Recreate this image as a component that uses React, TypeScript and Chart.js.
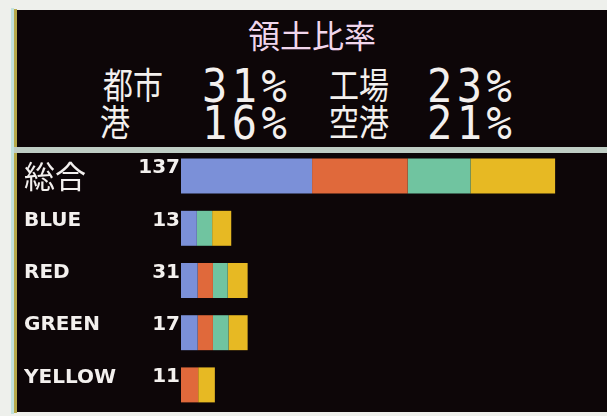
import React, { useEffect, useRef } from 'react';
import { Chart, registerables } from 'chart.js';

Chart.register(...registerables);

// ---- data ----
const chartTitle = '領土比率';
const rowNames = ['総合', 'BLUE', 'RED', 'GREEN', 'YELLOW'];
const rowTotals = [137, 13, 31, 17, 11];
const facilityNames = ['都市', '工場', '港', '空港'];
const facilityPercents = [31, 23, 16, 21];
const cityValues = [48, 5.8, 6.1, 6.1, 0];
const factoryValues = [35, 0, 5.6, 5.6, 6.3];
const portValues = [23, 5.6, 5.4, 5.7, 0];
const airportValues = [31, 7.0, 7.3, 7.0, 6.1];
const facilitySeries = [cityValues, factoryValues, portValues, airportValues];
const facilityColors = ['#7b90d8', '#e0693b', '#70c4a0', '#e7b923'];

const PANEL_BG = '#0d0608';
const TEXT_COLOR = '#f3f0ee';

export default function App() {
  const canvasRef = useRef<HTMLCanvasElement | null>(null);

  useEffect(() => {
    const canvas = canvasRef.current;
    if (!canvas) return;
    const noPad = (s: any, w: number) => {
      s.width = w;
      s.paddingTop = 0;
      s.paddingBottom = 0;
    };
    const chart = new Chart(canvas, {
      type: 'bar',
      data: {
        labels: rowNames,
        datasets: facilityNames.map((name, i) => ({
          label: name,
          data: facilitySeries[i],
          backgroundColor: facilityColors[i],
          borderWidth: 0,
          barPercentage: 0.67,
          categoryPercentage: 1,
        })),
      },
      options: {
        indexAxis: 'y',
        animation: false,
        responsive: false,
        maintainAspectRatio: false,
        layout: { padding: { left: 7, right: 0, top: 3, bottom: 1 } },
        plugins: {
          legend: { display: false },
          tooltip: { enabled: false },
          title: { display: false },
        },
        scales: {
          x: { display: false, stacked: true, min: 0, max: 156 },
          y: {
            stacked: true,
            weight: 0,
            grid: { display: false, drawTicks: false },
            border: { display: false },
            ticks: {
              color: TEXT_COLOR,
              padding: 1,
              labelOffset: -8,
              font: { family: 'DejaVu Sans', weight: 'bold', size: 20 },
              callback: (_v: any, i: number) => String(rowTotals[i]),
            },
            afterFit: (s: any) => noPad(s, 60),
          },
          names: {
            type: 'category',
            position: 'left',
            labels: rowNames,
            offset: true,
            weight: 1,
            grid: { display: false, drawTicks: false },
            border: { display: false },
            ticks: {
              color: TEXT_COLOR,
              crossAlign: 'far',
              padding: 0,
              font: (ctx: any) =>
                ctx.index === 0
                  ? { family: 'Noto Sans CJK JP', size: 31, weight: 'normal', lineHeight: 1.2 }
                  : { family: 'DejaVu Sans', weight: 'bold', size: 20, lineHeight: 0.75 },
              callback: (_v: any, i: number) => (i === 0 ? rowNames[i] : [rowNames[i], '']),
            },
            afterFit: (s: any) => noPad(s, 97),
          },
        },
      } as any,
    });
    return () => chart.destroy();
  }, []);

  const kanjiStyle = (left: number, top: number): React.CSSProperties => ({
    position: 'absolute',
    left,
    top,
    fontFamily: '"Noto Sans CJK JP", sans-serif',
    fontSize: 30,
    lineHeight: '30px',
    color: TEXT_COLOR,
    transform: 'scaleY(1.22)',
    transformOrigin: 'top left',
    whiteSpace: 'nowrap',
  });
  const numStyle = (left: number, top: number): React.CSSProperties => ({
    position: 'absolute',
    left,
    top,
    fontFamily: '"DejaVu Sans Mono", monospace',
    fontSize: 42,
    lineHeight: '42px',
    letterSpacing: 4.5,
    color: TEXT_COLOR,
    transform: 'scaleY(1.08)',
    transformOrigin: 'top left',
    whiteSpace: 'nowrap',
  });

  return (
    <div
      style={{
        position: 'fixed',
        left: 0,
        top: 0,
        width: 607,
        height: 416,
        background: '#eef0ec',
        overflow: 'hidden',
      }}
    >
      <div style={{ position: 'absolute', left: 11, top: 8, width: 3, height: 406, background: '#c2e2dc' }} />
      <div style={{ position: 'absolute', left: 14, top: 9, width: 3, height: 404, background: '#b7a94a' }} />
      {/* header panel */}
      <div
        style={{
          position: 'absolute',
          left: 17,
          top: 10,
          width: 590,
          height: 137,
          background: PANEL_BG,
        }}
      >
        <div
          style={{
            position: 'absolute',
            left: 0,
            top: 8,
            width: 590,
            textAlign: 'center',
            fontFamily: '"Noto Sans CJK JP", sans-serif',
            fontSize: 32,
            lineHeight: '32px',
            color: '#f1d6ec',
          }}
        >
          {chartTitle}
        </div>
        <div style={kanjiStyle(86, 55)}>{facilityNames[0]}</div>
        <div style={numStyle(185, 54)}>{facilityPercents[0] + '%'}</div>
        <div style={kanjiStyle(312, 55)}>{facilityNames[1]}</div>
        <div style={numStyle(410, 54)}>{facilityPercents[1] + '%'}</div>
        <div style={kanjiStyle(83, 92)}>{facilityNames[2]}</div>
        <div style={numStyle(185, 91)}>{facilityPercents[2] + '%'}</div>
        <div style={kanjiStyle(312, 92)}>{facilityNames[3]}</div>
        <div style={numStyle(410, 91)}>{facilityPercents[3] + '%'}</div>
      </div>
      {/* chart panel */}
      <div
        style={{
          position: 'absolute',
          left: 17,
          top: 147,
          width: 590,
          height: 265,
          background: PANEL_BG,
        }}
      >
        <canvas ref={canvasRef} width={590} height={265} style={{ display: 'block', width: 590, height: 265 }} />
      </div>
      {/* separator band */}
      <div
        style={{
          position: 'absolute',
          left: 14,
          top: 147,
          width: 593,
          height: 6,
          background: '#bfcdc4',
          zIndex: 2,
        }}
      />
    </div>
  );
}
